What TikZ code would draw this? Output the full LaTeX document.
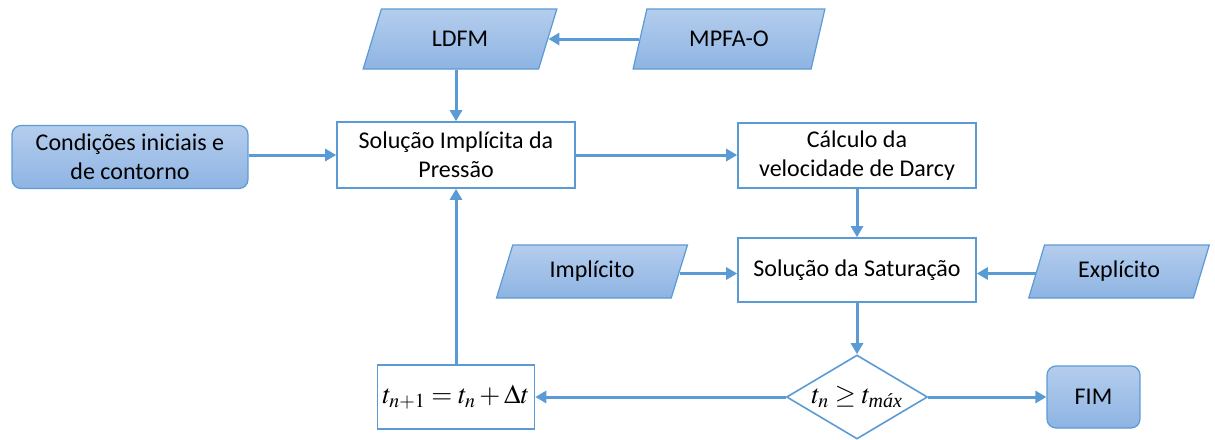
\documentclass[tikz,border=0pt]{standalone}
\usepackage{amsmath}
\usepackage{mathptmx}
\usepackage[no-math]{fontspec}
\setmainfont{Carlito}
\newfontfamily\tnrfam{Liberation Serif}
\usetikzlibrary{shapes.geometric,arrows.meta}
\definecolor{lineblue}{HTML}{5B9BD5}
\definecolor{filltop}{HTML}{B4CDED}
\definecolor{fillbot}{HTML}{8EB4E3}
\tikzset{
  txt/.style={font=\fontsize{24}{29}\selectfont, align=center, text=black},
  plainbox/.style={txt, draw=lineblue, line width=1.6pt, fill=white, rectangle, inner sep=0pt},
  roundbox/.style={txt, draw=lineblue, line width=1.2pt, rectangle, rounded corners=9pt, inner sep=0pt, top color=filltop, bottom color=fillbot},
  iobox/.style={txt, draw=lineblue, line width=1.2pt, trapezium, trapezium left angle=67, trapezium right angle=113, trapezium stretches=true, inner sep=0pt, top color=filltop, bottom color=fillbot},
  decbox/.style={draw=lineblue, line width=1.6pt, fill=white, diamond, inner sep=-10pt, minimum width=141pt, minimum height=84pt, aspect=1.68, font=\fontsize{27}{30}\selectfont},
  flow/.style={draw=lineblue, line width=3pt, -{Triangle[length=11pt,width=12pt]}}
}
\begin{document}
\begin{tikzpicture}[x=1pt,y=-1pt]
\useasboundingbox (0,0) rectangle (1215,439);
\node[iobox, minimum width=195pt, minimum height=60pt] (ldfm) at (460,39) {LDFM};
\node[iobox, minimum width=193pt, minimum height=60pt] (mpfa) at (729,39) {MPFA-O};
\node[roundbox, minimum width=236pt, minimum height=63pt] (cond) at (130,157) {Condições iniciais e\\de contorno};
\node[plainbox, minimum width=238pt, minimum height=66pt] (spi) at (456,155) {Solução Implícita da\\Pressão};
\node[plainbox, minimum width=238pt, minimum height=65pt] (calc) at (857,155.5) {Cálculo da\\velocidade de Darcy};
\node[plainbox, minimum width=238pt, minimum height=64pt] (sat) at (857,270) {Solução da Saturação};
\node[iobox, minimum width=191pt, minimum height=53pt] (impl) at (592,271.5) {Implícito};
\node[iobox, minimum width=182pt, minimum height=53pt] (expl) at (1119,271.5) {Explícito};
\node[decbox] (dec) at (857,397) {$t_n \geq t_{\text{\tnrfam\itshape máx}}$};
\node[plainbox, minimum width=157pt, minimum height=64pt, font=\fontsize{27}{30}\selectfont] (tbox) at (456,397) {$t_{n+1} = t_n + \Delta t$};
\node[roundbox, minimum width=93pt, minimum height=62pt] (fim) at (1093.5,397) {FIM};
\draw[flow] (mpfa.west) -- (mpfa.west -| ldfm.east);
\draw[flow] (ldfm.south -| spi.north) -- (spi.north);
\draw[flow] (cond.east |- spi.west) -- (spi.west);
\draw[flow] (spi.east) -- (spi.east -| calc.west);
\draw[flow] (calc.south) -- (sat.north);
\draw[flow] ([yshift=-2pt]impl.east) -- ([yshift=-2pt]impl.east -| sat.west);
\draw[flow] ([yshift=-2pt]expl.west) -- ([yshift=-2pt]expl.west -| sat.east);
\draw[flow] (sat.south) -- (dec.north);
\draw[flow] (dec.west) -- (dec.west -| tbox.east);
\draw[flow] (dec.east) -- (dec.east -| fim.west);
\draw[flow] (tbox.north) -- (tbox.north |- spi.south);
\end{tikzpicture}
\end{document}
